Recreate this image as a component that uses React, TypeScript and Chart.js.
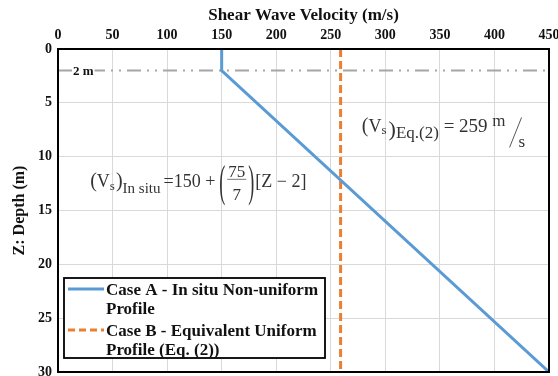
import { useEffect, useRef } from "react";
import { Chart, registerables } from "chart.js";

Chart.register(...registerables);

// ---- data ----
const DEPTH_IN_SITU = [0, 2, 30];
const VS_IN_SITU = [150, 150, 450];
const DEPTH_EQUIV = [0, 30];
const VS_EQUIV = [259, 259];
const REF_DEPTH = 2; // "2 m" reference line
const X_MIN = 0;
const X_MAX = 450;
const X_STEP = 50;
const Y_MIN = 0;
const Y_MAX = 30;
const Y_STEP = 5;
const LEGEND_LABELS = [
  ["Case A - In situ Non-uniform", "Profile"],
  ["Case B - Equivalent Uniform", "Profile (Eq. (2))"],
];
const SERIES_COLORS = ["#5B9BD5", "#ED7D31"];
const EQ1_ANCHOR = { x: 29.5, y: 12.8 };
const EQ2_ANCHOR = { x: 278.5, y: 7.75 };

const SERIF = '"Liberation Serif", "Times New Roman", serif';

type Part = { t: string; size: number; dy?: number; dx?: number };

function drawParts(ctx: CanvasRenderingContext2D, x: number, y: number, parts: Part[]) {
  let cx = x;
  for (const p of parts) {
    ctx.font = `${p.size}px ${SERIF}`;
    cx += p.dx ?? 0;
    ctx.fillText(p.t, cx, y + (p.dy ?? 0));
    cx += ctx.measureText(p.t).width;
  }
  return cx;
}

function bigParen(ctx: CanvasRenderingContext2D, ch: string, x: number, cy: number) {
  ctx.save();
  ctx.font = `18px ${SERIF}`;
  const w = ctx.measureText(ch).width;
  ctx.translate(x, cy);
  ctx.scale(1, 2.5);
  ctx.textBaseline = "middle";
  ctx.fillText(ch, 0, 0);
  ctx.restore();
  return x + w;
}

const overlayPlugin = {
  id: "overlay",
  beforeDatasetsDraw(chart: any) {
    const { ctx, chartArea, scales } = chart;
    const y = scales.y.getPixelForValue(REF_DEPTH);
    const l = chartArea.left;
    const r = chartArea.right;
    ctx.save();
    ctx.strokeStyle = "#a6a6a6";
    ctx.lineWidth = 2;
    ctx.beginPath();
    ctx.moveTo(l, y);
    ctx.lineTo(l + 47, y);
    ctx.stroke();
    ctx.setLineDash([14, 6, 2, 6, 2, 6]);
    ctx.lineDashOffset = 14;
    ctx.beginPath();
    ctx.moveTo(l + 47, y);
    ctx.lineTo(r, y);
    ctx.stroke();
    ctx.setLineDash([]);
    ctx.font = `bold 13px ${SERIF}`;
    const label = "2 m";
    const w = ctx.measureText(label).width;
    ctx.fillStyle = "#ffffff";
    ctx.fillRect(l + 14, y - 6, w + 2, 12);
    ctx.fillStyle = "#111111";
    ctx.textBaseline = "middle";
    ctx.fillText(label, l + 15, y + 1);
    ctx.restore();
  },
  afterDraw(chart: any) {
    const { ctx, chartArea, scales } = chart;
    const { left, top, right, bottom } = chartArea;
    ctx.save();
    ctx.strokeStyle = "#000000";
    ctx.lineWidth = 2;
    ctx.strokeRect(left, top, right - left, bottom - top);

    // legend
    const lx = left + 6;
    const ly = bottom - 94;
    ctx.fillStyle = "#ffffff";
    ctx.fillRect(lx, ly, 261, 80);
    ctx.lineWidth = 1.8;
    ctx.strokeStyle = "#000000";
    ctx.strokeRect(lx, ly, 261, 80);
    ctx.font = `bold 17px ${SERIF}`;
    ctx.fillStyle = "#111111";
    ctx.textBaseline = "alphabetic";
    LEGEND_LABELS.forEach((lines, i) => {
      const y0 = ly + 17 + i * 41;
      ctx.strokeStyle = SERIES_COLORS[i];
      ctx.lineWidth = 3;
      ctx.setLineDash(i === 1 ? [7, 4] : []);
      ctx.beginPath();
      ctx.moveTo(lx + 4, y0 - 6);
      ctx.lineTo(lx + 40, y0 - 6);
      ctx.stroke();
      ctx.setLineDash([]);
      lines.forEach((t, j) => ctx.fillText(t, lx + 42, y0 + j * 19));
    });

    // equation 1
    ctx.fillStyle = "#333333";
    ctx.textBaseline = "alphabetic";
    let x = scales.x.getPixelForValue(EQ1_ANCHOR.x);
    const b1 = scales.y.getPixelForValue(EQ1_ANCHOR.y);
    x = drawParts(ctx, x, b1, [
      { t: "(", size: 20 },
      { t: "V", size: 18 },
      { t: "s", size: 13, dy: 3 },
      { t: ")", size: 20, dx: 1 },
      { t: "In situ", size: 15, dy: 6 },
      { t: "=150 +", size: 18, dx: 3 },
    ]);
    x = bigParen(ctx, "(", x + 4, b1 - 3);
    ctx.font = `17px ${SERIF}`;
    const fw = ctx.measureText("75").width;
    const fx = x + 3;
    ctx.fillText("75", fx, b1 - 10);
    const w7 = ctx.measureText("7").width;
    ctx.fillText("7", fx + (fw - w7) / 2, b1 + 13);
    ctx.strokeStyle = "#555555";
    ctx.lineWidth = 0.8;
    ctx.beginPath();
    ctx.moveTo(fx - 1, b1 - 7.5);
    ctx.lineTo(fx + fw + 1, b1 - 7.5);
    ctx.stroke();
    x = bigParen(ctx, ")", fx + fw + 3, b1 - 3);
    drawParts(ctx, x + 1, b1, [{ t: "[Z − 2]", size: 18 }]);

    // equation 2
    let x2 = scales.x.getPixelForValue(EQ2_ANCHOR.x);
    const b2 = scales.y.getPixelForValue(EQ2_ANCHOR.y);
    x2 = drawParts(ctx, x2, b2, [
      { t: "(", size: 20 },
      { t: "V", size: 18 },
      { t: "s", size: 13, dy: 2 },
      { t: ")", size: 22, dy: 4, dx: 2 },
      { t: "Eq.(2)", size: 17, dy: 6 },
      { t: " = 259 ", size: 19 },
      { t: "m", size: 17, dy: -6 },
    ]);
    ctx.strokeStyle = "#444444";
    ctx.lineWidth = 0.9;
    ctx.beginPath();
    ctx.moveTo(x2 + 16, b2 - 15);
    ctx.lineTo(x2 + 4, b2 + 15);
    ctx.stroke();
    drawParts(ctx, x2 + 13, b2 + 15, [{ t: "s", size: 17 }]);
    ctx.restore();
  },
};

export default function App() {
  const ref = useRef<HTMLCanvasElement | null>(null);
  useEffect(() => {
    document.body.style.margin = "0";
    const canvas = ref.current;
    if (!canvas) return;
    const chart = new Chart(canvas, {
      type: "scatter",
      data: {
        datasets: [
          {
            label: LEGEND_LABELS[0].join(" "),
            data: VS_IN_SITU.map((v, i) => ({ x: v, y: DEPTH_IN_SITU[i] })),
            showLine: true,
            borderColor: SERIES_COLORS[0],
            backgroundColor: SERIES_COLORS[0],
            borderWidth: 3,
            pointRadius: 0,
            tension: 0,
          },
          {
            label: LEGEND_LABELS[1].join(" "),
            data: VS_EQUIV.map((v, i) => ({ x: v, y: DEPTH_EQUIV[i] })),
            showLine: true,
            borderColor: SERIES_COLORS[1],
            backgroundColor: SERIES_COLORS[1],
            borderWidth: 3,
            borderDash: [8, 4],
            pointRadius: 0,
          },
        ],
      },
      options: {
        animation: false,
        responsive: false,
        layout: { padding: { left: 0, top: 0, right: 9, bottom: 4 } },
        plugins: { legend: { display: false }, tooltip: { enabled: false } },
        scales: {
          x: {
            type: "linear",
            position: "top",
            min: X_MIN,
            max: X_MAX,
            ticks: {
              stepSize: X_STEP,
              color: "#111111",
              font: { family: SERIF, size: 14, weight: "bold" },
              padding: 5,
            },
            grid: { color: "#d9d9d9", lineWidth: 1, drawTicks: false },
            border: { color: "#000000", width: 2 },
            title: {
              display: true,
              text: "Shear Wave Velocity (m/s)",
              color: "#111111",
              font: { family: SERIF, size: 17, weight: "bold" },
              padding: { top: 5, bottom: 0 },
            },
            afterFit(scale: any) {
              scale.height = 49;
              scale.paddingLeft = 0;
              scale.paddingRight = 0;
            },
          },
          y: {
            type: "linear",
            reverse: true,
            min: Y_MIN,
            max: Y_MAX,
            ticks: {
              stepSize: Y_STEP,
              color: "#111111",
              font: { family: SERIF, size: 14, weight: "bold" },
              padding: 6,
            },
            grid: { color: "#d9d9d9", lineWidth: 1, drawTicks: false },
            border: { color: "#000000", width: 2 },
            title: {
              display: true,
              text: "Z: Depth (m)",
              color: "#111111",
              font: { family: SERIF, size: 16, weight: "bold" },
              padding: { top: 10, bottom: 0 },
            },
            afterFit(scale: any) {
              scale.width = 58;
              scale.paddingTop = 0;
              scale.paddingBottom = 0;
            },
          },
        },
      } as any,
      plugins: [overlayPlugin],
    });
    return () => chart.destroy();
  }, []);
  return <canvas ref={ref} width={558} height={376} style={{ display: "block" }} />;
}
